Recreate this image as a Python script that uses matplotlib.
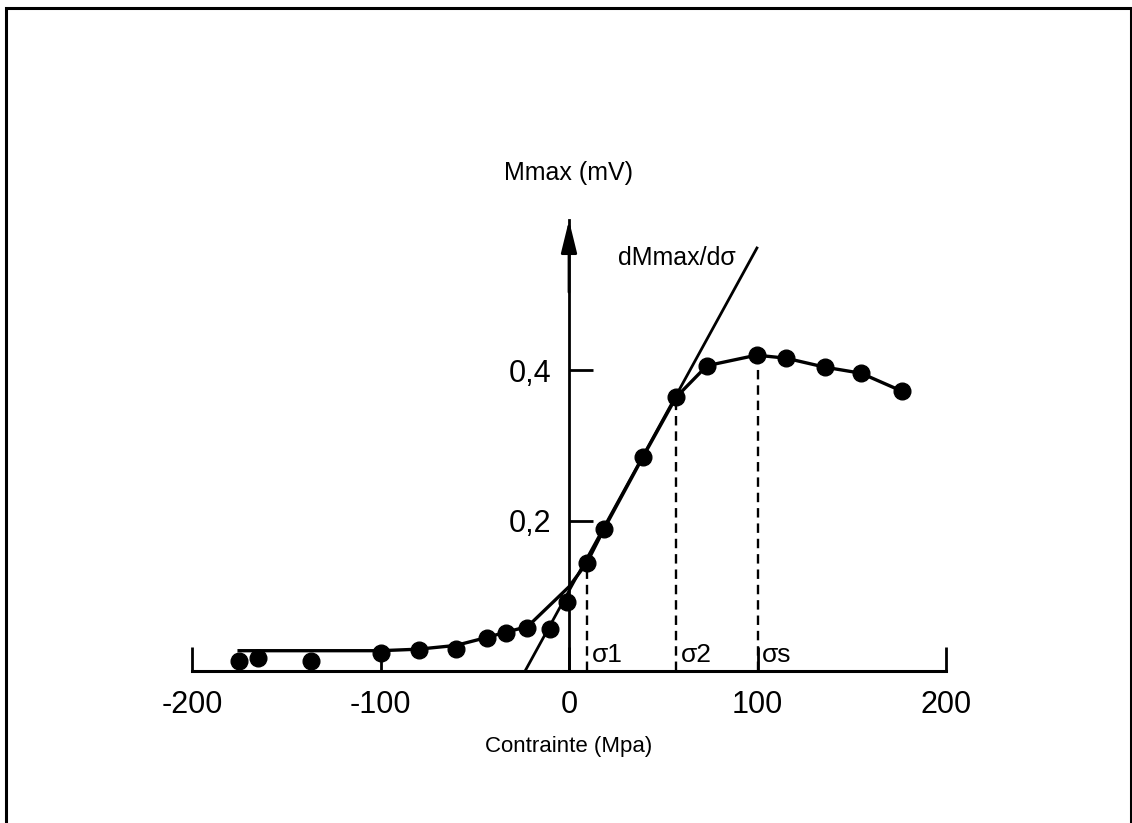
import matplotlib
matplotlib.use("Agg")
import matplotlib.pyplot as plt
from matplotlib.patches import Rectangle

plt.rcParams['font.family'] = ['Liberation Sans', 'DejaVu Sans']

# measured points (contrainte MPa, Mmax mV)
stress = [-175.1, -165.0, -136.9, -99.7, -79.6, -59.9, -43.5, -33.4, -22.3, -10.1,
          -1.1, 9.5, 18.6, 39.3, 56.8, 73.2, 99.5, 115.1, 135.8, 154.9, 176.7]
mmax = [0.013, 0.017, 0.013, 0.024, 0.028, 0.029, 0.044, 0.050, 0.057, 0.056,
        0.092, 0.144, 0.189, 0.285, 0.364, 0.406, 0.420, 0.416, 0.404, 0.396, 0.372]

# drawn trend curve
curve_x = [-175, -100, -80, -60, -43, -33, -22, 0, 9.5, 18.6, 39.3, 56.8, 73.2,
           99.5, 115.1, 135.8, 154.9, 176.7]
curve_y = [0.027, 0.027, 0.029, 0.034, 0.045, 0.052, 0.059, 0.112, 0.144, 0.189,
           0.285, 0.364, 0.406, 0.420, 0.416, 0.404, 0.396, 0.372]

# tangent dMmax/dsigma
tangent_x = [-23.3, 99.7]
tangent_y = [0.0, 0.5625]

# characteristic stresses
sigma_x = [9.5, 56.8, 100]
sigma_top = [0.144, 0.364, 0.420]
sigma_labels = ['σ1', 'σ2', 'σs']

xticks = [-200, -100, 0, 100, 200]
xtick_labels = ['-200', '-100', '0', '100', '200']
yticks = [0.2, 0.4]
ytick_labels = ['0,2', '0,4']

fig = plt.figure(figsize=(11.32, 8.23), dpi=100)
ax = fig.add_axes([192 / 1132, 152 / 823, 754 / 1132, 451.2 / 823])
ax.set_xlim(-200, 200)
ax.set_ylim(0, 0.6)

# frame around the figure (bottom edge runs off the page)
fig.patches.append(Rectangle((6 / 1132, -0.1), 1125 / 1132, 1.1 - 8 / 823,
                             transform=fig.transFigure, fill=False,
                             edgecolor='black', lw=2.2))

ax.spines['top'].set_visible(False)
ax.spines['right'].set_visible(False)
ax.spines['left'].set_position(('data', 0))
ax.spines['left'].set_linewidth(2)
ax.spines['bottom'].set_linewidth(2.2)

ax.set_xticks(xticks)
ax.set_xticklabels(xtick_labels, fontsize=22)
ax.set_yticks(yticks)
ax.set_yticklabels(ytick_labels, fontsize=22)
ax.tick_params(axis='x', direction='in', length=17, width=2, pad=14)
ax.tick_params(axis='y', direction='in', length=17, width=2, pad=13)

ax.annotate('', xy=(0, 0.603), xytext=(0, 0.5),
            arrowprops=dict(arrowstyle='-|>,head_length=1.1,head_width=0.27',
                            mutation_scale=18, color='black', lw=2),
            annotation_clip=False)

ax.plot(tangent_x, tangent_y, color='black', lw=2, clip_on=False)
ax.plot(curve_x, curve_y, color='black', lw=2.4, clip_on=False)
ax.plot(stress, mmax, 'o', color='black', markersize=12, clip_on=False)

ax.vlines(sigma_x, 0, sigma_top, colors='black', linestyles=(0, (4, 2.5)), lw=1.7)
for sx, lab in zip(sigma_x, sigma_labels):
    ax.text(sx + 2.5, 0.012, lab, fontsize=19, ha='left', va='baseline')

ax.text(0, 0.662, 'Mmax (mV)', fontsize=18, ha='center', va='center')
ax.text(26, 0.549, 'dMmax/dσ', fontsize=18, ha='left', va='center')
ax.text(0, -0.101, 'Contrainte (Mpa)', fontsize=16, ha='center', va='center')

fig.savefig('out.png', dpi=100)
